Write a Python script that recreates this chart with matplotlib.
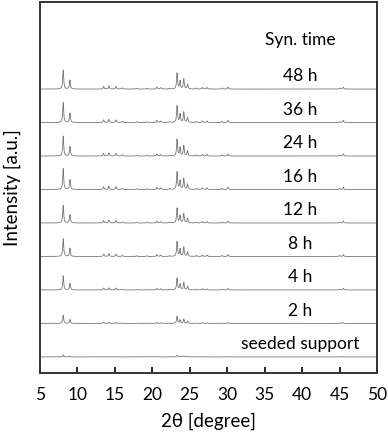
import numpy as np
import matplotlib
matplotlib.use("Agg")
import matplotlib.pyplot as plt

plt.rcParams['font.family'] = ['Lato', 'DejaVu Sans']

# Sample labels (bottom to top) and relative crystallinity scale of each pattern
samples = ["seeded support", "2 h", "4 h", "8 h", "12 h", "16 h", "24 h", "36 h", "48 h"]
sample_scale = [0.10, 0.44, 0.74, 0.93, 0.93, 1.10, 1.05, 1.05, 1.00]

peak_pos = [8.1, 9.0, 13.5, 14.2, 15.15, 16.0, 17.9, 19.3, 20.6, 21.1, 22.3,
            23.3, 23.7, 24.2, 24.7, 25.9, 26.7, 27.3, 29.3, 30.1, 45.0, 45.5]
peak_int = [19.0, 9.0, 2.5, 3.0, 2.5, 1.2, 0.8, 0.8, 2.0, 1.5, 0.8,
            16.0, 8.0, 10.0, 5.0, 1.0, 1.5, 1.5, 1.0, 2.0, 1.0, 2.0]
peak_fwhm = 0.15

xticks = [5, 10, 15, 20, 25, 30, 35, 40, 45, 50]

row_px = 33.5
x = np.linspace(5, 50, 4500)

fig = plt.figure(figsize=(3.88, 4.40), dpi=100)
ax = fig.add_axes([40/388, 1-373/440, 337/388, 371/440])

for i, (name, s) in enumerate(zip(samples, sample_scale)):
    y = np.zeros_like(x)
    for p, h in zip(peak_pos, peak_int):
        g = (peak_fwhm/2)**2 / ((x-p)**2 + (peak_fwhm/2)**2)
        y += h * g
    y = y * s / row_px + i
    ax.plot(x, y, color='#777777', lw=0.6)
    ax.text(39.7, i + 0.38, name, ha='center', va='center', fontsize=12.5, color='black')

ax.text(39.7, 9.46, "Syn. time", ha='center', va='center', fontsize=12.5, color='black')

ax.set_xlim(5, 50)
ax.set_ylim(-0.48, 10.6)
ax.set_xticks(xticks)
ax.set_xticklabels([str(t) for t in xticks], fontsize=12.5)
ax.set_yticks([])
ax.tick_params(axis='x', direction='in', length=4.5, width=1.2, pad=10, colors='black')
for sp in ax.spines.values():
    sp.set_linewidth(1.4)
    sp.set_color('#333333')
ax.set_xlabel("2θ [degree]", fontsize=13.5, labelpad=7)
ax.set_ylabel("Intensity [a.u.]", fontsize=13.5, labelpad=14)

fig.savefig("out.png", dpi=100)
